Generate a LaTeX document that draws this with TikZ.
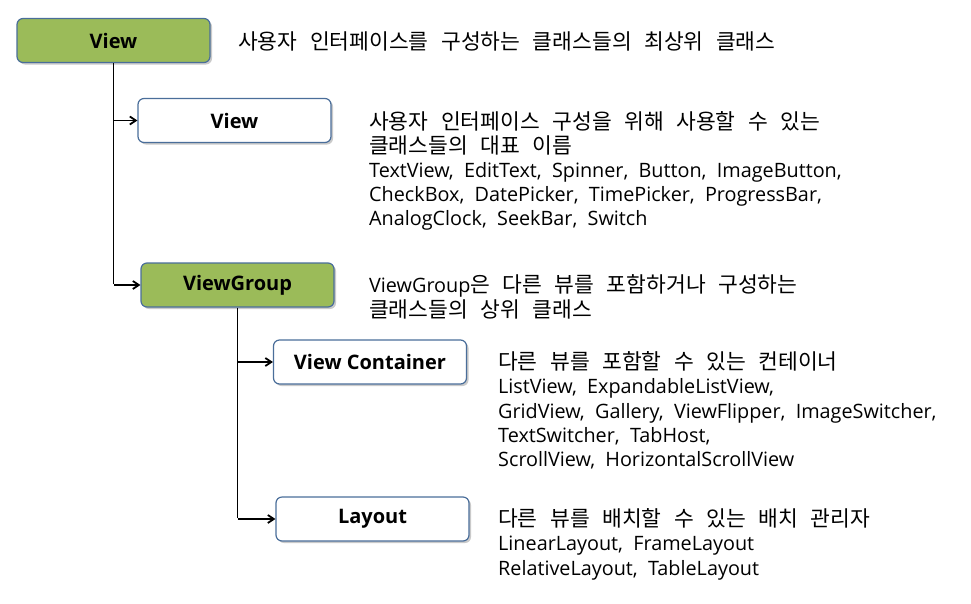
\documentclass[tikz,border=0pt]{standalone}
\usepackage{fontspec}
\setmainfont{Open Sans}
\newfontfamily\kr[WordSpace=2.6]{Noto Sans CJK KR}
\newfontfamily\lt[WordSpace=2.0]{Open Sans}
\newcommand{\latinpart}[1]{{\fontsize{19.8}{24}\lt #1}}
\usetikzlibrary{shadows,arrows.meta}
\definecolor{boxgreen}{HTML}{9BBB59}
\definecolor{boxedge}{HTML}{4A6E9A}
\begin{document}
\begin{tikzpicture}[x=1pt,y=-1pt,
  cls/.style={draw=boxedge,line width=1.2pt,rounded corners=6pt,minimum width=193pt,minimum height=44pt,
    font=\fontsize{20}{24}\selectfont\bfseries,inner sep=0pt,
    drop shadow={shadow xshift=2pt,shadow yshift=-2pt,opacity=0.35,fill=black!60}},
  green/.style={cls,fill=boxgreen},
  white/.style={cls,fill=white},
  kline/.style={anchor=base west,inner sep=0pt,font=\fontsize{21.5}{24}\kr},
  lline/.style={anchor=base west,inner sep=0pt,font=\fontsize{19.8}{24}\lt},
  conn/.style={line width=1.8pt},
  arr/.style={line width=1.8pt,-{Straight Barb[length=6pt,width=8pt]}}]
\useasboundingbox (0,0) rectangle (971,603);
\node[green] (v0) at (113.5,40.5) {View};
\node[white] (v1) at (234.5,120.5) {View};
\node[green] (vg) at (237.5,285) {ViewGroup};
\node[white] (vc) at (370,362) {View Container};
\node[white] (ly) at (372.5,519) {Layout};
\coordinate (j1) at (v0.south |- v1.west);
\coordinate (j2) at (v0.south |- vg.west);
\coordinate (j3) at (vg.south |- vc.west);
\coordinate (j4) at (vg.south |- ly.west);
\draw[conn] (v0.south) -- ([yshift=0.9pt]j2);
\draw[arr] (j1) -- (v1.west);
\draw[arr] (j2) -- (vg.west);
\draw[conn] (vg.south) -- ([yshift=0.9pt]j4);
\draw[arr] (j3) -- (vc.west);
\draw[arr] (j4) -- (ly.west);
\node[kline] (t0) at (238,49) {사용자 인터페이스를 구성하는 클래스들의 최상위 클래스};
\node[kline] (t1a) at (369,129) {사용자 인터페이스 구성을 위해 사용할 수 있는};
\node[kline] (t1b) at (369,153) {클래스들의 대표 이름};
\node[lline] (t1c) at (369,177.5) {TextView, EditText, Spinner, Button, ImageButton,};
\node[lline] (t1d) at (369,201.5) {CheckBox, DatePicker, TimePicker, ProgressBar,};
\node[lline] (t1e) at (369,225.5) {AnalogClock, SeekBar, Switch};
\node[kline] (t2a) at (369,292) {\latinpart{ViewGroup}은 다른 뷰를 포함하거나 구성하는};
\node[kline] (t2b) at (369,317) {클래스들의 상위 클래스};
\node[kline] (t3a) at (498,369) {다른 뷰를 포함할 수 있는 컨테이너};
\node[lline] (t3b) at (498,393.5) {ListView, ExpandableListView,};
\node[lline] (t3c) at (498,418) {GridView, Gallery, ViewFlipper, ImageSwitcher,};
\node[lline] (t3d) at (498,442) {TextSwitcher, TabHost,};
\node[lline] (t3e) at (498,466.5) {ScrollView, HorizontalScrollView};
\node[kline] (t4a) at (498,526) {다른 뷰를 배치할 수 있는 배치 관리자};
\node[lline] (t4b) at (498,550) {LinearLayout, FrameLayout};
\node[lline] (t4c) at (498,575) {RelativeLayout, TableLayout};
\end{tikzpicture}
\end{document}
